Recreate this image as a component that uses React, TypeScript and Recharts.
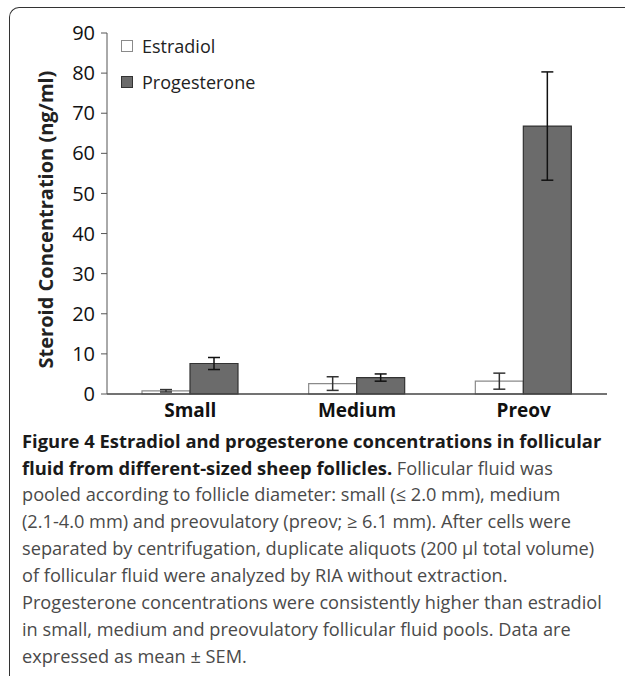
import React from 'react';
import { BarChart, Bar, XAxis, YAxis, ErrorBar } from 'recharts';

const categories = ['Small', 'Medium', 'Preov'];
const estradiol = [0.8, 2.6, 3.2];
const estradiolSem = [0.3, 1.7, 2.0];
const progesterone = [7.6, 4.1, 66.8];
const progesteroneSem = [1.5, 0.9, 13.5];
const yTicks = [0, 10, 20, 30, 40, 50, 60, 70, 80, 90];
const seriesNames = ['Estradiol', 'Progesterone'];

const data = categories.map((c, i) => ({
  name: c,
  Estradiol: estradiol[i],
  estradiolErr: estradiolSem[i],
  Progesterone: progesterone[i],
  progesteroneErr: progesteroneSem[i],
}));

const FONT = '"Open Sans", sans-serif';

const captionLines: Array<Array<[string, boolean]>> = [
  [['Figure 4 Estradiol and progesterone concentrations in follicular', true]],
  [['fluid from different-sized sheep follicles.', true], [' Follicular fluid was', false]],
  [['pooled according to follicle diameter: small (\u2264 2.0 mm), medium', false]],
  [['(2.1-4.0 mm) and preovulatory (preov; \u2265 6.1 mm). After cells were', false]],
  [['separated by centrifugation, duplicate aliquots (200 \u00b5l total volume)', false]],
  [['of follicular fluid were analyzed by RIA without extraction.', false]],
  [['Progesterone concentrations were consistently higher than estradiol', false]],
  [['in small, medium and preovulatory follicular fluid pools. Data are', false]],
  [['expressed as mean \u00b1 SEM.', false]],
];

const legendStyles = [
  { fill: '#ffffff', stroke: '#8a8a8a' },
  { fill: '#6b6b6b', stroke: '#333' },
];

const YLabel = (props: any) => {
  const vb = props.viewBox || { x: 0, y: 33, width: 107, height: 361 };
  const x = 45;
  const y = vb.y + vb.height / 2 + 6;
  return (
    <text
      x={x}
      y={y}
      transform={`rotate(-90 ${x} ${y})`}
      textAnchor="middle"
      dominantBaseline="central"
      fontFamily={FONT}
      fontWeight={700}
      fontSize={20}
      fill="#222"
    >
      Steroid Concentration (ng/ml)
    </text>
  );
};

export default function App() {
  return (
    <div style={{ position: 'absolute', left: 0, top: 0, width: 625, height: 676, background: '#fff', overflow: 'hidden' }}>
      <div
        style={{
          position: 'absolute',
          left: 9,
          top: 7,
          width: 640,
          height: 676,
          borderLeft: '1.5px solid #333',
          borderTop: '1.5px solid #333',
          borderTopLeftRadius: 10,
        }}
      />
      <div style={{ position: 'absolute', left: 0, top: 0 }}>
        <BarChart
          width={625}
          height={430}
          data={data}
          margin={{ top: 33, right: 18, left: 0, bottom: 0 }}
          barCategoryGap={35}
          barGap={0}
        >
          <XAxis
            dataKey="name"
            axisLine={{ stroke: '#444', strokeWidth: 1.5 }}
            tickLine={false}
            tickSize={0}
            tickMargin={10}
            height={36}
            tick={{ fontFamily: FONT, fontSize: 19, fontWeight: 700, fill: '#111' }}
          />
          <YAxis
            width={107}
            domain={[0, 90]}
            ticks={yTicks}
            interval={0}
            axisLine={{ stroke: '#555', strokeWidth: 1 }}
            tickLine={{ stroke: '#555' }}
            tickSize={6}
            tickMargin={6}
            tick={{ fontFamily: FONT, fontSize: 20, fill: '#111' }}
            label={<YLabel />}
          />
          <Bar dataKey="Estradiol" fill="#ffffff" stroke="#8a8a8a" strokeWidth={1.2} isAnimationActive={false}>
            <ErrorBar dataKey="estradiolErr" width={6} stroke="#333" strokeWidth={1.5} direction="y" />
          </Bar>
          <Bar dataKey="Progesterone" fill="#6b6b6b" stroke="#333" strokeWidth={1.2} isAnimationActive={false}>
            <ErrorBar dataKey="progesteroneErr" width={6} stroke="#111" strokeWidth={1.5} direction="y" />
          </Bar>
        </BarChart>
      </div>
      <div style={{ position: 'absolute', left: 121, top: 28, fontFamily: FONT, fontSize: 18, color: '#222' }}>
        {seriesNames.map((name, i) => (
          <div key={name} style={{ display: 'flex', alignItems: 'center', height: 36 }}>
            <div
              style={{
                width: 10,
                height: 10,
                background: legendStyles[i].fill,
                border: `1px solid ${legendStyles[i].stroke}`,
                marginRight: 9,
              }}
            />
            <span>{name}</span>
          </div>
        ))}
      </div>
      <div
        style={{
          position: 'absolute',
          left: 22,
          top: 427,
          fontFamily: FONT,
          whiteSpace: 'nowrap',
        }}
      >
        {captionLines.map((line, i) => (
          <div key={i} style={{ height: 27, lineHeight: '27px', fontSize: 18 }}>
            {line.map(([t, b], j) => (
              <span
                key={j}
                style={
                  b
                    ? { fontWeight: 700, fontSize: 18.4, color: '#1a1a1a', lineHeight: '27px' }
                    : { fontWeight: 400, fontSize: 18.2, color: '#4a4a4a', lineHeight: '27px' }
                }
              >
                {t}
              </span>
            ))}
          </div>
        ))}
      </div>
    </div>
  );
}
